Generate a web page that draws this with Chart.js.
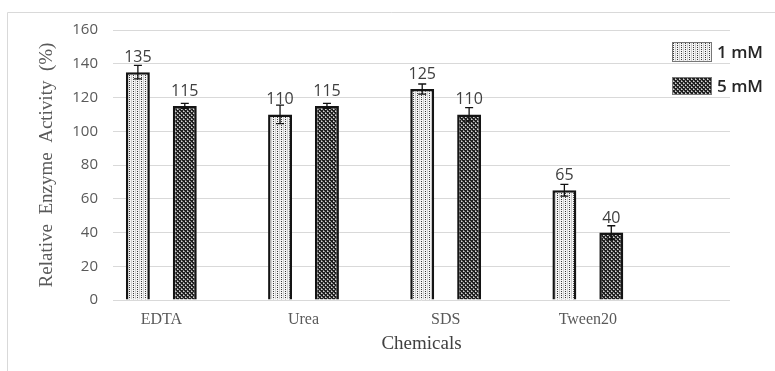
<!DOCTYPE html>
<html>
<head>
<meta charset="utf-8">
<script src="https://cdn.jsdelivr.net/npm/chart.js@4"></script>
<style>
  body { margin: 0; background: #fff; }
  canvas { display: block; }
</style>
</head>
<body>
<canvas id="enzChart" width="775" height="371"></canvas>
<script>
// data
const categories = ['EDTA', 'Urea', 'SDS', 'Tween20'];
const seriesNames = ['1 mM', '5 mM'];
const values1mM = [135, 110, 125, 65];
const values5mM = [115, 115, 110, 40];
const err1mM = [4, 5.5, 3, 3.5];
const err5mM = [1.5, 1.5, 4, 4];
const yTickValues = [0, 20, 40, 60, 80, 100, 120, 140, 160];

// fill patterns
function makePattern(kind) {
  const c = document.createElement('canvas');
  c.width = 4; c.height = 4;
  const g = c.getContext('2d');
  if (kind === 'light') {
    g.fillStyle = '#f4f4f4'; g.fillRect(0, 0, 4, 4);
    g.fillStyle = '#cfcfcf'; g.fillRect(3, 0, 1, 4);
    g.fillStyle = '#3a3a3a'; g.fillRect(1, 1, 1, 1); g.fillRect(1, 3, 1, 1);
  } else {
    g.fillStyle = '#202020'; g.fillRect(0, 0, 4, 4);
    g.fillStyle = '#d6d6d6'; g.fillRect(1, 1, 1, 1); g.fillRect(3, 3, 1, 1);
    g.fillStyle = '#8a8a8a'; g.fillRect(2, 1, 1, 1); g.fillRect(0, 3, 1, 1);
    g.fillRect(1, 0, 1, 1); g.fillRect(3, 2, 1, 1);
  }
  return g.createPattern(c, 'repeat');
}

const ctx = document.getElementById('enzChart').getContext('2d');
const fills = [makePattern('light'), makePattern('dark')];
const errors = [err1mM, err5mM];

const sansFont = "'Open Sans', 'Liberation Sans', sans-serif";
const serifFont = "'Liberation Serif', 'DejaVu Serif', serif";

// frame, error bars, value labels, legend
const extras = {
  id: 'extras',
  beforeDraw(chart) {
    const c = chart.ctx;
    c.save();
    c.strokeStyle = '#d9d9d9';
    c.lineWidth = 1;
    c.beginPath();
    c.moveTo(7.5, 371); c.lineTo(7.5, 12.5); c.lineTo(775, 12.5);
    c.stroke();
    c.restore();
  },
  afterDatasetsDraw(chart) {
    const c = chart.ctx;
    const y = chart.scales.y;
    c.save();
    chart.data.datasets.forEach((ds, di) => {
      const meta = chart.getDatasetMeta(di);
      meta.data.forEach((bar, i) => {
        const v = ds.data[i].y;
        const e = errors[di][i];
        const yt = y.getPixelForValue(v + e);
        const yb = y.getPixelForValue(v - e);
        c.strokeStyle = '#111';
        c.lineWidth = 1.3;
        c.beginPath();
        c.moveTo(bar.x, yt); c.lineTo(bar.x, yb);
        c.moveTo(bar.x - 4, yt); c.lineTo(bar.x + 4, yt);
        c.moveTo(bar.x - 4, yb); c.lineTo(bar.x + 4, yb);
        c.stroke();
        c.fillStyle = '#404040';
        c.font = '16px ' + sansFont;
        c.textAlign = 'center';
        c.textBaseline = 'alphabetic';
        c.fillText(String(v), bar.x, y.getPixelForValue(v) - 10);
      });
    });
    c.restore();
  },
  afterDraw(chart) {
    const c = chart.ctx;
    c.save();
    const boxes = [[672, 42, 40, 20], [672, 77, 40, 18]];
    chart.data.datasets.forEach((ds, di) => {
      const [bx, by, bw, bh] = boxes[di];
      c.fillStyle = fills[di];
      c.fillRect(bx, by, bw, bh);
      c.strokeStyle = '#777';
      c.lineWidth = 1;
      c.strokeRect(bx + 0.5, by + 0.5, bw - 1, bh - 1);
      c.fillStyle = '#262626';
      c.font = '600 17px ' + sansFont;
      c.textAlign = 'left';
      c.textBaseline = 'middle';
      c.fillText(ds.label, 717, by + bh / 2 + 1);
    });
    c.restore();
  }
};

const chart = new Chart(ctx, {
  type: 'bar',
  data: {
    datasets: [
      {
        label: seriesNames[0],
        data: categories.map((c, i) => ({ x: i, y: values1mM[i] })),
        backgroundColor: fills[0],
        borderColor: '#141414',
        borderWidth: 2.5,
        categoryPercentage: 0.66,
        barPercentage: 0.51
      },
      {
        label: seriesNames[1],
        data: categories.map((c, i) => ({ x: i, y: values5mM[i] })),
        backgroundColor: fills[1],
        borderColor: '#141414',
        borderWidth: 2.5,
        categoryPercentage: 0.66,
        barPercentage: 0.51
      }
    ]
  },
  options: {
    responsive: false,
    animation: false,
    layout: { padding: { left: 0, top: 30, right: 45, bottom: 0 } },
    plugins: {
      legend: { display: false },
      tooltip: { enabled: false }
    },
    scales: {
      x: {
        type: 'linear',
        min: -0.34,
        max: 4,
        offset: false,
        grid: { display: false, drawTicks: false, offset: false },
        border: { display: false },
        afterBuildTicks: s => { s.ticks = categories.map((c, i) => ({ value: i })); },
        afterFit: s => { s.height = 71; },
        ticks: {
          padding: 10,
          maxRotation: 0,
          autoSkip: false,
          color: '#595959',
          font: { family: serifFont, size: 16 },
          callback: v => categories[v]
        },
        title: {
          display: true,
          text: 'Chemicals',
          color: '#404040',
          font: { family: serifFont, size: 19 },
          padding: { top: 0, bottom: 16 }
        }
      },
      y: {
        min: 0,
        max: 160,
        grid: { color: '#d9d9d9', drawTicks: false },
        border: { display: false },
        afterBuildTicks: s => { s.ticks = yTickValues.map(v => ({ value: v })); },
        afterFit: s => { s.width = 113; },
        ticks: {
          padding: 15,
          color: '#595959',
          font: { family: sansFont, size: 15 }
        },
        title: {
          display: true,
          text: 'Relative  Enzyme  Activity  (%)',
          color: '#595959',
          font: { family: serifFont, size: 19 },
          padding: { top: 36, bottom: 0 }
        }
      }
    }
  },
  plugins: [extras]
});
</script>
</body>
</html>
